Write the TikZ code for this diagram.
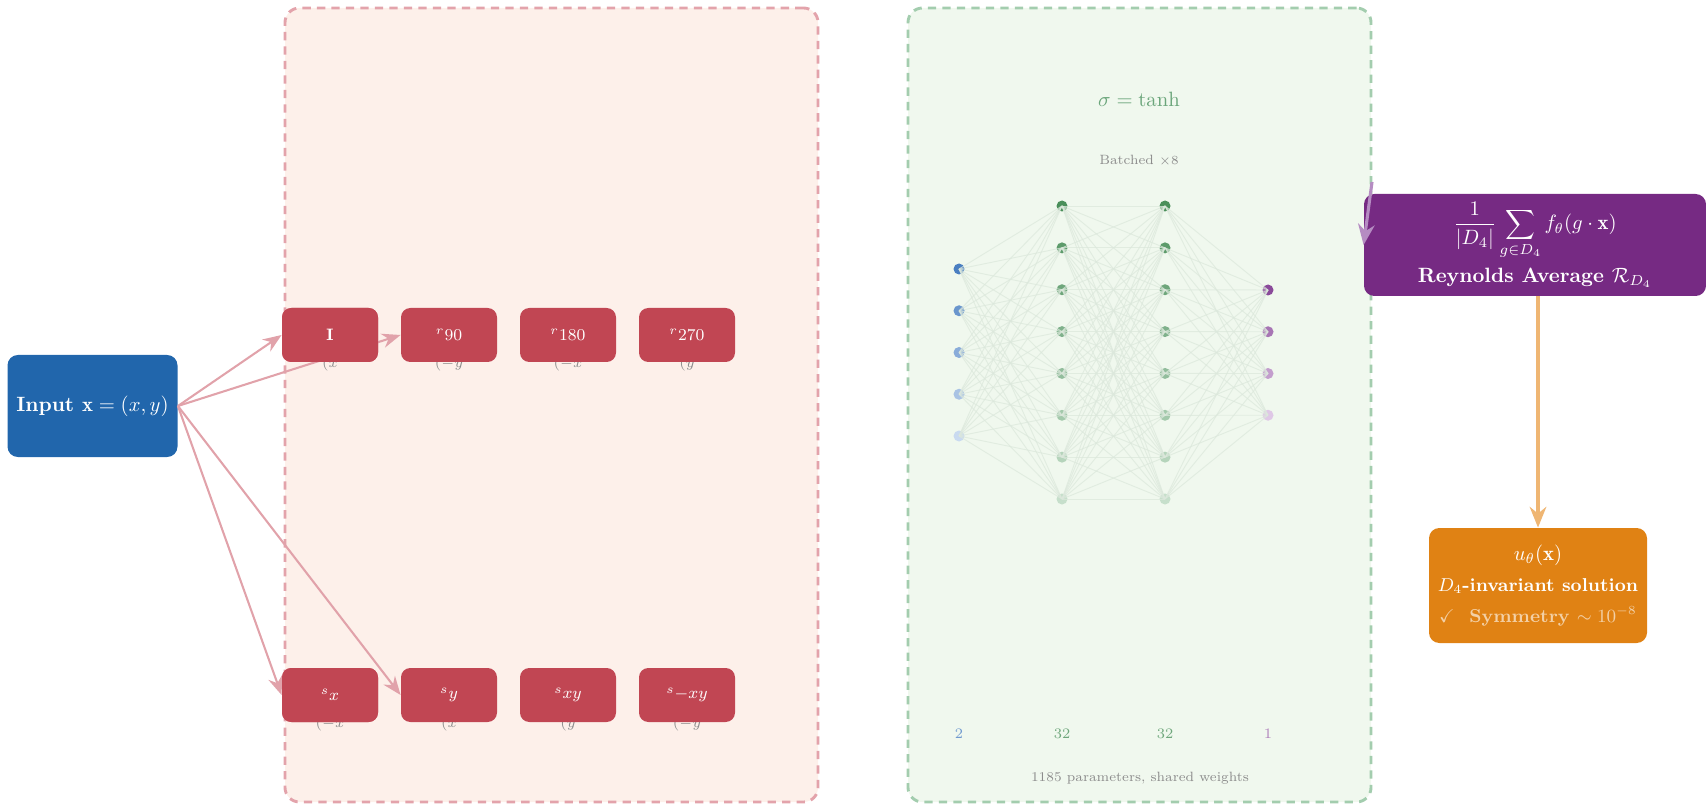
\documentclass[tikz,border=0pt]{standalone}
\usepackage{amsmath,amssymb}
\usepackage{fontspec}
\usetikzlibrary{arrows.meta}
\newcommand\pxs{0.483pt}
\definecolor{inblue}{HTML}{2166AC}
\definecolor{symred}{HTML}{C14653}
\definecolor{reypurple}{HTML}{762A83}
\definecolor{outorange}{HTML}{E08214}
\definecolor{redfill}{HTML}{FDF0EA}
\definecolor{redborder}{HTML}{E3A3AB}
\definecolor{greenfill}{HTML}{F0F8EE}
\definecolor{greenborder}{HTML}{A3CDAE}
\definecolor{pinkarrow}{HTML}{E1A2AA}
\definecolor{orangearrow}{HTML}{EFB673}
\definecolor{purplearrow}{HTML}{B58CC2}
\definecolor{edgegreen}{HTML}{DCE8DC}
\definecolor{nnblueA}{HTML}{4A7FC1}
\definecolor{nnblueB}{HTML}{C9DAF0}
\definecolor{nngreenA}{HTML}{4A8F5A}
\definecolor{nngreenB}{HTML}{C6DFCB}
\definecolor{nnpurpleA}{HTML}{8A4A9A}
\definecolor{nnpurpleB}{HTML}{DFC8E6}
\definecolor{labgray}{HTML}{8C8C8C}
\definecolor{sigmagreen}{HTML}{6AA57A}
\begin{document}
\begin{tikzpicture}[x=0.483pt, y=-0.483pt,
  panel/.style={dash pattern=on 4pt off 3pt, line width=1.4pt, rounded corners=7pt, inner sep=0pt},
  symbox/.style={fill=symred, rounded corners=4.5pt, minimum width=96*\pxs, minimum height=54*\pxs, inner sep=0pt, text=white, font=\footnotesize},
  sublab/.style={anchor=base, text=labgray, font=\scriptsize, inner sep=0pt},
  pinkarr/.style={draw=pinkarrow, line width=1pt, -{Stealth[length=9pt,width=7pt]}},
  neuron/.style={circle, minimum size=11*\pxs, inner sep=0pt},
  nnedge/.style={draw=edgegreen, line width=0.45pt, opacity=0.75},
  laylab/.style={font=\scriptsize, inner sep=0pt},
  graytxt/.style={text=labgray, font=\fontsize{6.5}{8}\selectfont, inner sep=0pt},
  mainbox/.style={rounded corners=5pt, inner sep=0pt, text=white, align=center}
]
\useasboundingbox (0,0) rectangle (1706,804);

% panels
\node[panel, draw=redborder, fill=redfill, minimum width=533*\pxs, minimum height=794*\pxs] (symgroup) at (551.5,405) {};
\node[panel, draw=greenborder, fill=greenfill, minimum width=463*\pxs, minimum height=794*\pxs] (netgroup) at (1139.5,405) {};

% partially hidden labels under the symmetry boxes
\node[sublab] (l1) at (330,367) {$(x$};
\node[sublab] (l2) at (449,367) {$(-y$};
\node[sublab] (l3) at (568,367) {$(-x$};
\node[sublab] (l4) at (687,367) {$(y$};
\node[sublab] (l5) at (330,727) {$(-x$};
\node[sublab] (l6) at (449,727) {$(x$};
\node[sublab] (l7) at (568,727) {$(y$};
\node[sublab] (l8) at (687,727) {$(-y$};

% input
\node[mainbox, fill=inblue, minimum width=170*\pxs, minimum height=102*\pxs] (input) at (92.5,406) {\bfseries Input $\mathbf{x}=(x,y)$};

\node[symbox] (bI) at (330,335) {\bfseries I};
\node[symbox] (b90) at (449,335) {${}^{r}90$};
\node[symbox] (b180) at (568,335) {${}^{r}180$};
\node[symbox] (b270) at (687,335) {${}^{r}270$};
\node[symbox] (bsx) at (330,695) {${}^{s}x$};
\node[symbox] (bsy) at (449,695) {${}^{s}y$};
\node[symbox] (bsxy) at (568,695) {${}^{s}xy$};
\node[symbox] (bsmxy) at (687,695) {${}^{s}{-xy}$};

\draw[pinkarr] (input.east) -- (bI.west);
\draw[pinkarr] (input.east) -- (b90.west);
\draw[pinkarr] (input.east) -- (bsx.west);
\draw[pinkarr] (input.east) -- (bsy.west);
\node[symbox] at (bI) {\bfseries I};
\node[symbox] at (bsx) {${}^{s}x$};

% network texts
\node[text=sigmagreen, inner sep=0pt] (sig) at (1139,99) {$\sigma=\tanh$};
\node[graytxt] (batch) at (1139,161) {Batched $\times 8$};

% neurons
\foreach \i in {1,...,5} {
  \pgfmathtruncatemacro\p{100-(\i-1)*25}
  \node[neuron, fill=nnblueA!\p!nnblueB] (i\i) at (959,{269+(\i-1)*41.75}) {};
}
\foreach \i in {1,...,8} {
  \pgfmathtruncatemacro\p{100-(\i-1)*100/7}
  \node[neuron, fill=nngreenA!\p!nngreenB] (h\i) at (1062,{206+(\i-1)*41.86}) {};
  \node[neuron, fill=nngreenA!\p!nngreenB] (k\i) at (1165,{206+(\i-1)*41.86}) {};
}
\foreach \i in {1,...,4} {
  \pgfmathtruncatemacro\p{100-(\i-1)*100/3}
  \node[neuron, fill=nnpurpleA!\p!nnpurpleB] (o\i) at (1268,{290+(\i-1)*41.75}) {};
}
% edges
\foreach \a in {1,...,5} \foreach \b in {1,...,8} \draw[nnedge] (i\a.center) -- (h\b.center);
\foreach \a in {1,...,8} \foreach \b in {1,...,8} \draw[nnedge] (h\a.center) -- (k\b.center);
\foreach \a in {1,...,8} \foreach \b in {1,...,4} \draw[nnedge] (k\a.center) -- (o\b.center);

% layer labels
\node[laylab, text=nnblueA!70!nnblueB] (n1) at (959,734) {2};
\node[laylab, text=nngreenA!70!nngreenB] (n2) at (1062,734) {32};
\node[laylab, text=nngreenA!70!nngreenB] (n3) at (1165,734) {32};
\node[laylab, text=nnpurpleA!55!nnpurpleB] (n4) at (1268,734) {1};
\node[graytxt] (params) at (1140,778) {1185 parameters, shared weights};

% Reynolds
\node[mainbox, fill=reypurple, minimum width=342*\pxs, minimum height=102*\pxs] (rey) at (1535,245)
  {$\displaystyle\frac{1}{|D_4|}\sum_{g\in D_4} f_\theta(g\cdot\mathbf{x})$\\[3pt]
   \bfseries Reynolds Average $\mathcal{R}_{D_4}$};
\coordinate (pstart) at (1372,182);
\draw[draw=purplearrow, line width=1.5pt, -{Stealth[length=10pt,width=8pt]}] (pstart) -- (rey.west);

% output
\node[mainbox, fill=outorange, minimum width=218*\pxs, minimum height=115*\pxs] (out) at (1538,585.5)
  {$u_\theta(\mathbf{x})$\\[3pt]
   \small\bfseries $D_4$-invariant solution\\[3pt]
   \small\color{white!62!outorange}\bfseries $\checkmark$\ \ Symmetry $\sim 10^{-8}$};
\coordinate (arrtop) at (out.north |- rey.south);
\draw[draw=orangearrow, line width=1.7pt, -{Stealth[length=10pt,width=8pt]}] (arrtop) -- (out.north);
\end{tikzpicture}
\end{document}
